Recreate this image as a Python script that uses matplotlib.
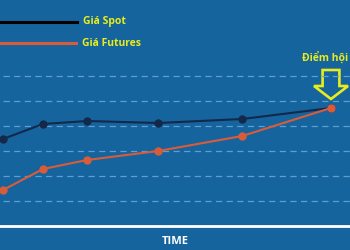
import matplotlib
matplotlib.use("Agg")
import matplotlib.pyplot as plt
from matplotlib.patches import FancyArrow

# time positions (arbitrary units) and prices
time = [0, 1, 2.1, 3.88, 5.98, 8.2]
spot = [3.48, 4.08, 4.2, 4.12, 4.28, 4.72]
futures = [1.44, 2.28, 2.64, 3.0, 3.6, 4.72]
grid_levels = [1, 2, 3, 4, 5, 6]

BG = "#15649e"
SPOT_C = "#14284a"
FUT_C = "#d95c3a"
YELLOW = "#e9ec1c"
GRID_C = "#5d9fd2"

fig = plt.figure(figsize=(3.5, 2.5), dpi=100)
fig.patch.set_facecolor(BG)
ax = fig.add_axes([0, 0, 1, 1])
ax.set_facecolor(BG)
ax.set_xlim(-0.075, 8.675)
ax.set_ylim(-0.96, 9.04)
ax.axis("off")

for g in grid_levels:
    ax.plot([0, 8.675], [g, g], color=GRID_C, lw=0.9, dashes=(5, 3.5))

# baseline
ax.axhline(0, color="white", lw=2)

ax.plot(time, spot, color=SPOT_C, lw=1.5, marker="o", ms=5)
ax.plot(time, futures, color=FUT_C, lw=1.5, marker="o", ms=5)

# legend drawn by hand
ax.plot([-0.075, 1.85], [8.16, 8.16], color="black", lw=2.2)
ax.plot([-0.075, 1.83], [7.32, 7.32], color=FUT_C, lw=2.2)
ax.text(2.0, 8.2, "Giá Spot", color=YELLOW, fontsize=7.5, fontweight="bold",
        family="Open Sans", va="center", ha="left")
ax.text(1.97, 7.32, "Giá Futures", color=YELLOW, fontsize=7.5, fontweight="bold",
        family="Open Sans", va="center", ha="left")

# convergence marker
ax.text(8.64, 6.75, "Điểm hội", color=YELLOW, fontsize=7.5, fontweight="bold",
        family="Open Sans", va="center", ha="right")
arrow = FancyArrow(time[-1], 6.24, 0, -(6.24 - spot[-1] - 0.36), width=0.42,
                   head_width=0.85, head_length=0.52, length_includes_head=True,
                   fill=False, edgecolor=YELLOW, lw=1.9)
ax.add_patch(arrow)

ax.text(4.3, -0.6, "TIME", color="white", fontsize=8, fontweight="bold",
        family="Open Sans", va="center", ha="center")

fig.savefig("out.png", dpi=100, facecolor=BG)
